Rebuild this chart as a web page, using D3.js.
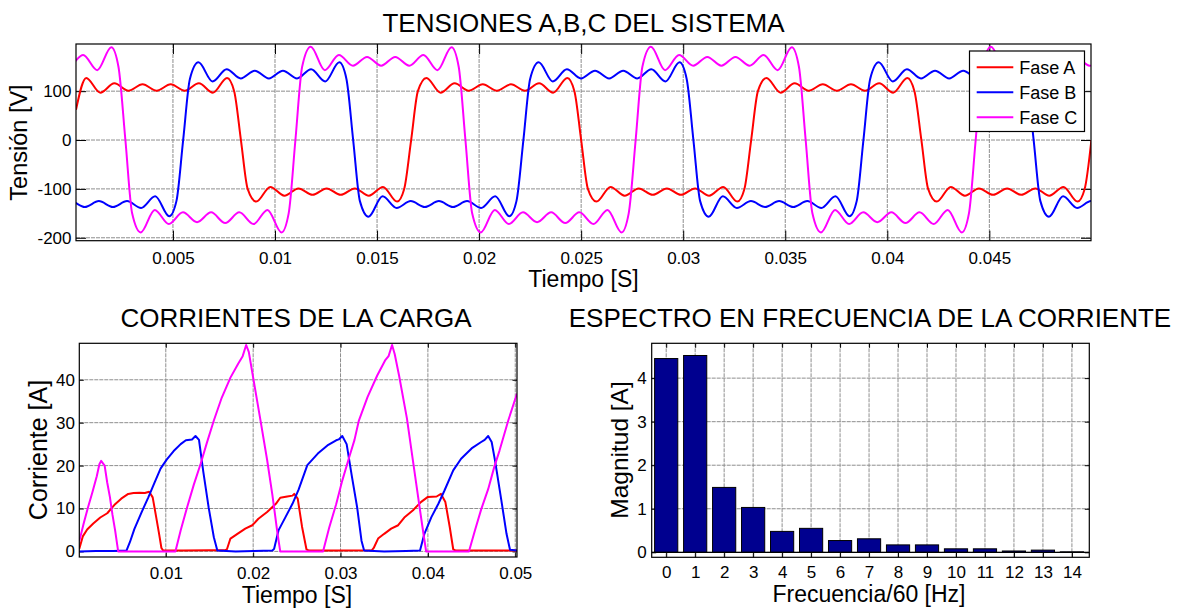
<!DOCTYPE html>
<html>
<head>
<meta charset="utf-8">
<script src="https://cdn.jsdelivr.net/npm/d3@7"></script>
<style>
  html, body { margin: 0; padding: 0; background: #fff; }
  svg { display: block; font-family: "Liberation Sans", Arial, Helvetica, sans-serif; }
</style>
</head>
<body>
<svg id="fig" width="1185" height="613"></svg>
<script>
// ---------------- Tensiones de fase [t (s), v (V)] ----------------
const faseA = [
  [0.00025, 62], [0.00075, 127], [0.00144, 97], [0.00213, 116], [0.00282, 101], [0.00351, 114], [0.0042, 101],
  [0.00489, 114], [0.00558, 101], [0.00627, 116], [0.00696, 97], [0.00765, 127], [0.0080, 100],
  [0.00833, 0], [0.00866, -100], [0.00908, -126], [0.00977, -96], [0.01046, -114], [0.01115, -99], [0.01184, -112],
  [0.01253, -99], [0.01322, -112], [0.01391, -99], [0.0146, -114], [0.01529, -96], [0.01598, -126], [0.01633, -100],
  [0.01667, 0], [0.017, 100], [0.01742, 127], [0.01811, 97], [0.0188, 116], [0.01949, 101], [0.02018, 114],
  [0.02087, 101], [0.02156, 114], [0.02225, 101], [0.02294, 116], [0.02363, 97], [0.02432, 127], [0.02467, 100],
  [0.025, 0], [0.02533, -100], [0.02575, -126], [0.02644, -96], [0.02713, -114], [0.02782, -99], [0.02851, -112],
  [0.0292, -99], [0.02989, -112], [0.03058, -99], [0.03127, -114], [0.03196, -96], [0.03265, -126], [0.033, -100],
  [0.03333, 0], [0.03366, 100], [0.03408, 127], [0.03477, 97], [0.03546, 116], [0.03615, 101], [0.03684, 114],
  [0.03753, 101], [0.03822, 114], [0.03891, 101], [0.0396, 116], [0.04029, 97], [0.04098, 127], [0.04133, 100],
  [0.04167, 0], [0.042, -100], [0.04242, -126], [0.04311, -96], [0.0438, -114], [0.04449, -99], [0.04518, -112],
  [0.04587, -99], [0.04656, -112], [0.04725, -99], [0.04794, -114], [0.04863, -96], [0.04932, -126], [0.04967, -100],
  [0.05, 0]
];
const faseB = [
  [-0.0007, -139], [-0.00001, -125], [0.00068, -137], [0.00137, -125], [0.00206, -137], [0.00275, -125],
  [0.00344, -139], [0.00413, -115], [0.00482, -156], [0.00517, -125],
  [0.0055, 0], [0.00583, 125], [0.00625, 159], [0.00694, 120], [0.00763, 145], [0.00832, 126], [0.00901, 142],
  [0.0097, 126], [0.01039, 142], [0.01108, 126], [0.01177, 145], [0.01246, 120], [0.01315, 159], [0.0135, 125],
  [0.01383, 0], [0.01416, -125], [0.01458, -157], [0.01527, -115], [0.01596, -139], [0.01665, -125], [0.01734, -137],
  [0.01803, -125], [0.01872, -137], [0.01941, -125], [0.0201, -139], [0.02079, -115], [0.02148, -156], [0.02183, -125],
  [0.02217, 0], [0.0225, 125], [0.02292, 159], [0.02361, 120], [0.0243, 145], [0.02499, 126], [0.02568, 142],
  [0.02637, 126], [0.02706, 142], [0.02775, 126], [0.02844, 145], [0.02913, 120], [0.02982, 159], [0.03017, 125],
  [0.0305, 0], [0.03083, -125], [0.03125, -157], [0.03194, -115], [0.03263, -139], [0.03332, -125], [0.03401, -137],
  [0.0347, -125], [0.03539, -137], [0.03608, -125], [0.03677, -139], [0.03746, -115], [0.03815, -156], [0.0385, -125],
  [0.03883, 0], [0.03916, 125], [0.03958, 159], [0.04027, 120], [0.04096, 145], [0.04165, 126], [0.04234, 142],
  [0.04303, 126], [0.04372, 142], [0.04441, 126], [0.0451, 145], [0.04579, 120], [0.04648, 159], [0.04683, 125],
  [0.04717, 0], [0.0475, -125], [0.04792, -157], [0.04861, -115], [0.0493, -139], [0.04999, -125], [0.05068, -137]
];
const faseC = [
  [-0.00078, 170], [-0.00009, 152], [0.0006, 174], [0.00129, 143], [0.00198, 190], [0.00233, 150],
  [0.00267, 0], [0.003, -150], [0.00342, -189], [0.00411, -143], [0.0048, -172], [0.00549, -148], [0.00618, -168],
  [0.00687, -148], [0.00756, -170], [0.00825, -148], [0.00894, -172], [0.00963, -143], [0.01032, -189], [0.01067, -150],
  [0.011, 0], [0.01133, 150], [0.01175, 191], [0.01244, 143], [0.01313, 174], [0.01382, 152], [0.01451, 170],
  [0.0152, 152], [0.01589, 170], [0.01658, 152], [0.01727, 174], [0.01796, 143], [0.01865, 190], [0.019, 150],
  [0.01933, 0], [0.01966, -150], [0.02008, -189], [0.02077, -143], [0.02146, -172], [0.02215, -148], [0.02284, -168],
  [0.02353, -148], [0.02422, -170], [0.02491, -148], [0.0256, -172], [0.02629, -143], [0.02698, -189], [0.02733, -150],
  [0.02767, 0], [0.028, 150], [0.02842, 191], [0.02911, 143], [0.0298, 174], [0.03049, 152], [0.03118, 170],
  [0.03187, 152], [0.03256, 170], [0.03325, 152], [0.03394, 174], [0.03463, 143], [0.03532, 190], [0.03567, 150],
  [0.036, 0], [0.03633, -150], [0.03675, -189], [0.03744, -143], [0.03813, -172], [0.03882, -148], [0.03951, -168],
  [0.0402, -148], [0.04089, -170], [0.04158, -148], [0.04227, -172], [0.04296, -143], [0.04365, -189], [0.044, -150],
  [0.04433, 0], [0.04466, 150], [0.04508, 191], [0.04577, 143], [0.04646, 174], [0.04715, 152], [0.04784, 170],
  [0.04853, 152], [0.04922, 170], [0.04991, 152], [0.0506, 174]
];
const nombresFase = ["Fase A", "Fase B", "Fase C"];
const tiempoTicksV = [0.005, 0.01, 0.015, 0.02, 0.025, 0.03, 0.035, 0.04, 0.045];
const tensionTicks = [-200, -100, 0, 100];

// ---------------- Corrientes de la carga [t (s), i (A)] ----------------
const corrA = [
  [0.0001, 0.6], [0.0005, 3.5], [0.0010, 5.1], [0.0017, 6.5], [0.0025, 7.9], [0.0033, 8.9], [0.0041, 10.8],
  [0.0049, 12.3], [0.0057, 13.4], [0.0063, 13.6], [0.0070, 13.7], [0.0076, 13.6], [0.0081, 13.9], [0.0085, 12.6],
  [0.0089, 8.0], [0.0092, 4.5], [0.0095, 0.8], [0.0097, 0.2], [0.0120, 0.2], [0.0150, 0.3], [0.0168, 0.3],
  [0.0170, 0.5], [0.0174, 3.0], [0.0182, 4.1], [0.0191, 5.3], [0.0199, 6.1], [0.0206, 7.6], [0.0216, 9.2],
  [0.0226, 11.1], [0.0231, 12.5], [0.0239, 12.8], [0.0245, 13.0], [0.0247, 13.4], [0.0251, 12.3], [0.0256, 5.7],
  [0.0261, 0.5], [0.0264, 0.2], [0.0300, 0.2], [0.0336, 0.3], [0.0338, 0.8], [0.0343, 3.0], [0.0350, 4.1],
  [0.0358, 5.3], [0.0366, 6.1], [0.0373, 7.9], [0.0383, 9.6], [0.0392, 11.5], [0.0400, 12.7], [0.0410, 12.8],
  [0.0415, 13.4], [0.0420, 11.5], [0.0425, 5.7], [0.0429, 0.5], [0.0432, 0.2], [0.0470, 0.2], [0.0502, 0.2]
];
const corrB = [
  [0.0001, 0.0], [0.0020, 0.1], [0.0040, 0.1], [0.0055, 0.2], [0.0059, 2.2], [0.0064, 5.2], [0.0072, 9.0],
  [0.0080, 12.6], [0.0087, 16.0], [0.0094, 19.3], [0.0101, 21.4], [0.0109, 23.4], [0.0117, 25.0], [0.0123, 25.9],
  [0.0130, 26.1], [0.0134, 26.9], [0.0138, 26.0], [0.0143, 18.5], [0.0149, 10.3], [0.0155, 3.3], [0.0159, 0.2],
  [0.0180, 0.0], [0.0200, 0.1], [0.0222, 0.2], [0.0224, 0.6], [0.0229, 4.9], [0.0237, 8.0], [0.0245, 11.1],
  [0.0252, 14.4], [0.0262, 20.1], [0.0274, 22.8], [0.0285, 24.7], [0.0295, 25.9], [0.0298, 26.1], [0.0302, 26.9],
  [0.0307, 25.0], [0.0313, 17.5], [0.0319, 10.3], [0.0324, 2.5], [0.0327, 0.2], [0.0350, 0.0], [0.0375, 0.1],
  [0.0391, 0.2], [0.0396, 4.1], [0.0404, 8.0], [0.0412, 11.1], [0.0419, 14.2], [0.0429, 18.9], [0.0438, 21.6],
  [0.0450, 24.0], [0.0461, 25.5], [0.0465, 26.0], [0.0469, 26.9], [0.0473, 25.5], [0.0477, 21.0], [0.0484, 12.0],
  [0.0490, 4.1], [0.0494, 0.4], [0.0502, 0.2]
];
const corrC = [
  [0.0001, 2.4], [0.0006, 6.5], [0.0011, 10.3], [0.0016, 13.8], [0.0021, 17.5], [0.0024, 20.3], [0.0026, 21.1],
  [0.0030, 20.0], [0.0033, 16.0], [0.0036, 12.7], [0.0039, 8.5], [0.0042, 4.9], [0.00455, 0.0], [0.0080, 0.0],
  [0.0111, 0.0], [0.0117, 4.9], [0.0124, 10.0], [0.0132, 15.5], [0.0140, 20.5], [0.0147, 25.3], [0.0155, 30.5],
  [0.0164, 35.8], [0.0174, 40.5], [0.0183, 43.8], [0.0188, 45.5], [0.0192, 48.1], [0.0195, 46.5], [0.0200, 40.5],
  [0.0208, 31.0], [0.0216, 21.3], [0.0222, 13.2], [0.0228, 4.0], [0.0231, 0.0], [0.0260, 0.0], [0.0280, 0.0],
  [0.0287, 5.5], [0.0295, 11.0], [0.0302, 16.5], [0.0310, 22.0], [0.0316, 26.0], [0.0321, 30.5], [0.0331, 36.0],
  [0.0342, 41.0], [0.0351, 44.5], [0.0355, 45.5], [0.0359, 48.1], [0.0362, 46.0], [0.0367, 41.0], [0.0376, 31.0],
  [0.0383, 21.0], [0.0390, 11.0], [0.0395, 4.0], [0.0398, 0.0], [0.0420, 0.0], [0.0447, 0.0], [0.0454, 5.0],
  [0.0461, 9.8], [0.0469, 14.5], [0.0476, 19.7], [0.0482, 23.5], [0.0492, 30.5], [0.0502, 36.8]
];
const tiempoTicksI = [0.01, 0.02, 0.03, 0.04, 0.05];
const corrienteTicks = [0, 10, 20, 30, 40];

// ---------------- Espectro de la corriente ----------------
const armonicos = [0, 1, 2, 3, 4, 5, 6, 7, 8, 9, 10, 11, 12, 13, 14];
const magnitudes = [4.45, 4.52, 1.49, 1.03, 0.48, 0.55, 0.27, 0.31, 0.17, 0.17, 0.08, 0.08, 0.03, 0.05, 0.01];
const magnitudTicks = [0, 1, 2, 3, 4];

// ---------------- Drawing ----------------
const colores = ["#ff0000", "#0000ff", "#ff00ff"];
const GRID = "#8e8e8e";
const TICK_FONT = 17;
const svg = d3.select("#fig");
svg.append("rect").attr("width", 1185).attr("height", 613).attr("fill", "#fff");
const fmt = d => String(d);
let clipCount = 0;

function panel(box, xDom, yDom, xTicks, yTicks, tickLen, xPad, yPad) {
  const x = d3.scaleLinear().domain(xDom).range([box.x0, box.x1]);
  const y = d3.scaleLinear().domain(yDom).range([box.y1, box.y0]);
  const g = svg.append("g");

  // grid
  const grid = g.append("g").attr("stroke", GRID).attr("stroke-width", 1).attr("stroke-dasharray", "4,1");
  grid.selectAll("line.gx").data(xTicks).join("line").attr("class", "gx")
    .attr("x1", d => x(d)).attr("x2", d => x(d)).attr("y1", box.y0).attr("y2", box.y1);
  grid.selectAll("line.gy").data(yTicks).join("line").attr("class", "gy")
    .attr("y1", d => y(d)).attr("y2", d => y(d)).attr("x1", box.x0).attr("x2", box.x1);

  // inward ticks on all four sides
  const styleAxis = sel => {
    sel.select(".domain").remove();
    sel.selectAll(".tick line").attr("stroke", "#000");
    sel.selectAll("text").attr("font-size", TICK_FONT)
      .attr("font-family", '"Liberation Sans", Arial, Helvetica, sans-serif').attr("fill", "#000");
  };
  g.append("g").attr("transform", `translate(0,${box.y1})`)
    .call(d3.axisBottom(x).tickValues(xTicks).tickSizeInner(-tickLen).tickSizeOuter(0).tickPadding(xPad).tickFormat(fmt))
    .call(styleAxis);
  g.append("g").attr("transform", `translate(0,${box.y0})`)
    .call(d3.axisTop(x).tickValues(xTicks).tickSizeInner(-tickLen).tickSizeOuter(0).tickFormat(""))
    .call(styleAxis);
  g.append("g").attr("transform", `translate(${box.x0},0)`)
    .call(d3.axisLeft(y).tickValues(yTicks).tickSizeInner(-tickLen).tickSizeOuter(0).tickPadding(yPad).tickFormat(fmt))
    .call(styleAxis);
  g.append("g").attr("transform", `translate(${box.x1},0)`)
    .call(d3.axisRight(y).tickValues(yTicks).tickSizeInner(-tickLen).tickSizeOuter(0).tickFormat(""))
    .call(styleAxis);

  const id = "clip" + (clipCount++);
  svg.append("clipPath").attr("id", id).append("rect")
    .attr("x", box.x0).attr("y", box.y0).attr("width", box.x1 - box.x0).attr("height", box.y1 - box.y0);
  const plot = svg.append("g").attr("clip-path", `url(#${id})`);
  const frame = () => svg.append("rect").attr("x", box.x0).attr("y", box.y0)
    .attr("width", box.x1 - box.x0).attr("height", box.y1 - box.y0)
    .attr("fill", "none").attr("stroke", "#000").attr("stroke-width", 1.2);
  return { x, y, plot, frame, box };
}

function text(str, x, y, size, opts = {}) {
  const t = svg.append("text").attr("x", x).attr("y", y).attr("font-size", size)
    .attr("text-anchor", opts.anchor || "middle").attr("fill", "#000").text(str);
  if (opts.rotate) t.attr("transform", `rotate(-90,${x},${y})`);
  return t;
}

// ===== Panel 1: tensiones =====
const p1 = panel({ x0: 76, x1: 1091, y0: 44, y1: 240.7 }, [0.00025, 0.04998], [-206, 196.5],
  tiempoTicksV, tensionTicks, 10, 11, 4.5);
const lineV = d3.line().x(d => p1.x(d[0])).y(d => p1.y(d[1])).curve(d3.curveMonotoneX);
[faseA, faseB, faseC].forEach((serie, i) => {
  p1.plot.append("path").datum(serie).attr("d", lineV)
    .attr("fill", "none").attr("stroke", colores[i]).attr("stroke-width", 2).attr("stroke-linejoin", "round");
});
p1.frame();

// legend
const leg = svg.append("g");
leg.append("rect").attr("x", 969.5).attr("y", 51).attr("width", 115).attr("height", 80.5)
  .attr("fill", "#fff").attr("stroke", "#000").attr("stroke-width", 1.2);
nombresFase.forEach((n, i) => {
  const yy = 67.3 + i * 25;
  leg.append("line").attr("x1", 976.7).attr("x2", 1013.3).attr("y1", yy).attr("y2", yy)
    .attr("stroke", colores[i]).attr("stroke-width", 2);
  leg.append("text").attr("x", 1019.3).attr("y", yy).attr("dy", "0.35em").attr("font-size", 18)
    .attr("fill", "#000").text(n);
});

text("TENSIONES A,B,C DEL SISTEMA", 583.5, 31.5, 26);
text("Tiempo [S]", 583.5, 287, 23);
text("Tensión [V]", 26.5, 142.5, 23.5, { rotate: true });

// ===== Panel 2: corrientes =====
const p2 = panel({ x0: 79.3, x1: 517, y0: 343.3, y1: 557 }, [0.0001, 0.0502], [-1.3, 48.5],
  tiempoTicksI, corrienteTicks, 4.5, 9.9, 4.3);
const lineI = d3.line().x(d => p2.x(d[0])).y(d => p2.y(d[1]));
[corrA, corrB, corrC].forEach((serie, i) => {
  p2.plot.append("path").datum(serie).attr("d", lineI)
    .attr("fill", "none").attr("stroke", colores[i]).attr("stroke-width", 2).attr("stroke-linejoin", "round");
});
p2.frame();
text("CORRIENTES DE LA CARGA", 296, 327, 26);
text("Tiempo [S]", 297, 603, 23);
text("Corriente [A]", 46.5, 450, 25, { rotate: true });

// ===== Panel 3: espectro =====
const p3 = panel({ x0: 651.7, x1: 1089.3, y0: 343.3, y1: 557.3 }, [-0.5, 14.6], [-0.115, 4.8],
  armonicos, magnitudTicks, 4.5, 8.6, 5);
const anchoBarra = p3.x(0.4) - p3.x(-0.4);
p3.plot.selectAll("rect.bar").data(armonicos).join("rect").attr("class", "bar")
  .attr("x", d => p3.x(d) - anchoBarra / 2)
  .attr("width", anchoBarra)
  .attr("y", (d, i) => p3.y(magnitudes[i]))
  .attr("height", (d, i) => p3.y(0) - p3.y(magnitudes[i]))
  .attr("fill", "#00008f").attr("stroke", "#000").attr("stroke-width", 1);
p3.plot.append("line").attr("x1", p3.box.x0).attr("x2", p3.box.x1)
  .attr("y1", p3.y(0)).attr("y2", p3.y(0)).attr("stroke", "#000").attr("stroke-width", 1.2);
p3.frame();
text("ESPECTRO EN FRECUENCIA DE LA CORRIENTE", 870, 327, 26);
text("Frecuencia/60 [Hz]", 869, 601.5, 23);
text("Magnitud [A]", 628, 450, 24.5, { rotate: true });
</script>
</body>
</html>
